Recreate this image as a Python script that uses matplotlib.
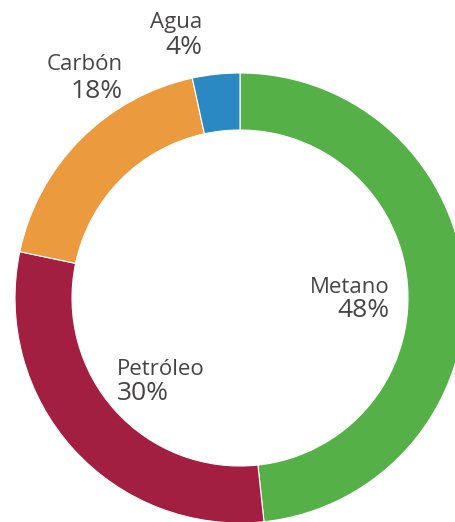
import matplotlib.pyplot as plt

fuentes = ["Metano", "Petróleo", "Carbón", "Agua"]
valores = [48.3, 30.0, 18.3, 3.4]
etiquetas = ["48%", "30%", "18%", "4%"]
colores = ["#55b147", "#a31f42", "#ec9a3e", "#2a88c2"]

W, H = 456, 522
fig = plt.figure(figsize=(W / 100, H / 100), dpi=100)
ax = fig.add_axes([0, 0, 1, 1])

# centro y radios en pixeles (y medida desde arriba)
cx, cy = 240, 298
r_ext, r_int = 225, 168

ax.pie(valores, colors=colores, startangle=90, counterclock=False,
       center=(cx, H - cy), radius=r_ext,
       wedgeprops=dict(width=r_ext - r_int, edgecolor="white", linewidth=0.8))

ax.set_xlim(0, W)
ax.set_ylim(0, H)
ax.set_aspect("equal")
ax.axis("off")

# posición de cada etiqueta: x, baseline nombre, baseline porcentaje, alineación
pos = {
    "Metano": (390, 293, 317, "right"),
    "Petróleo": (117, 375, 400, "left"),
    "Carbón": (123, 70, 98, "right"),
    "Agua": (202, 28, 54, "right"),
}
gris = "#474444"
for nombre, et in zip(fuentes, etiquetas):
    x, y1, y2, ha = pos[nombre]
    ax.text(x, H - y1, nombre, ha=ha, va="baseline", fontsize=16,
            family="Open Sans", color=gris)
    ax.text(x, H - y2, et, ha=ha, va="baseline", fontsize=19,
            family="Open Sans", color=gris)

fig.savefig("out.png", dpi=100)
